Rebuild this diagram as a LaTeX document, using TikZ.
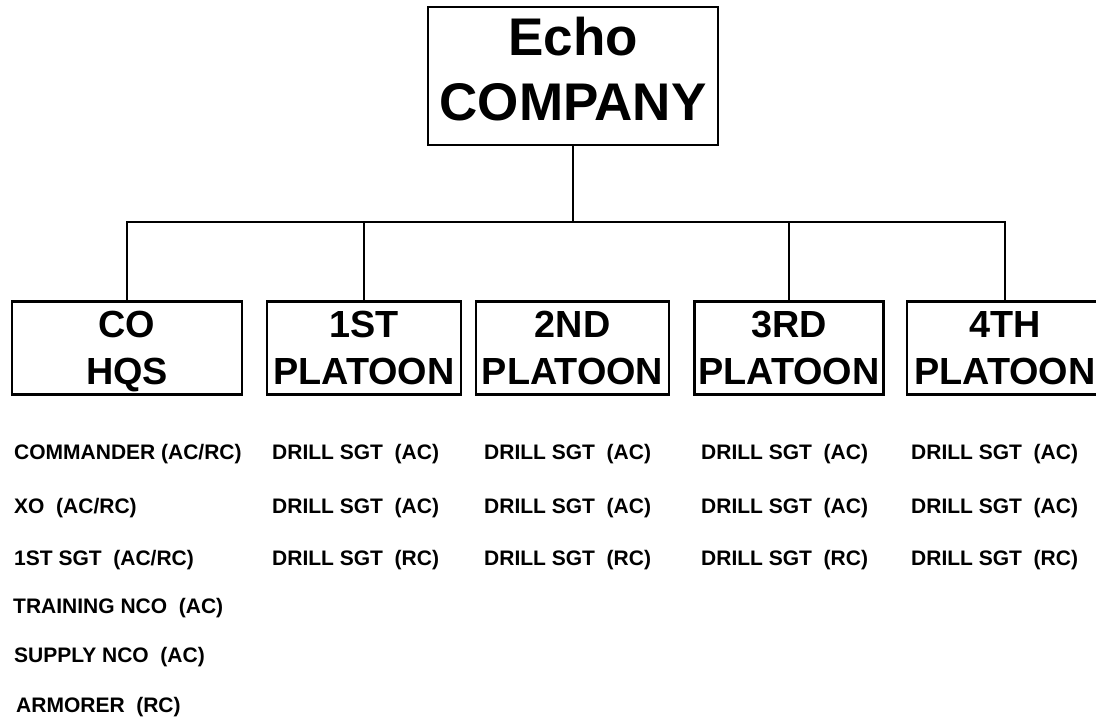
\documentclass[tikz,border=0pt]{standalone}
\usepackage{fontspec}
\setmainfont{Liberation Sans}
\begin{document}
\begin{tikzpicture}[x=1pt,y=-1pt,
  box/.style={draw, line width=2.2pt, inner sep=0pt, minimum height=93pt},
  conn/.style={draw, line width=2pt},
  big/.style={anchor=base, inner sep=0pt, font=\bfseries\fontsize{53}{60}\selectfont},
  ttl/.style={anchor=base, inner sep=0pt, font=\bfseries\fontsize{37.8}{44}\selectfont},
  item/.style={anchor=base west, inner sep=0pt, font=\bfseries\fontsize{21}{24}\selectfont}]
\useasboundingbox[fill=white] (0,0) rectangle (1096,719);

% top box
\node[box, minimum width=290pt, minimum height=138pt] (echo) at (573,76) {};
\node[big] (echoA) at (573,56) {Echo};
\node[big] (echoB) at (573,121) {COMPANY};

% unit boxes
\node[box, minimum width=230pt] (hq) at (127,348) {};
\node[box, minimum width=194pt] (p1) at (364,348) {};
\node[box, minimum width=193pt] (p2) at (572.5,348) {};
\node[box, minimum width=189pt] (p3) at (789,348) {};
\node[box, minimum width=196pt] (p4) at (1005,348) {};

\node[ttl] (hqA) at (127,338) {CO};
\node[ttl] (hqB) at (127,385) {HQS};
\node[ttl] (p1A) at (364,338) {1ST};
\node[ttl] (p1B) at (364,385) {PLATOON};
\node[ttl] (p2A) at (572.5,338) {2ND};
\node[ttl] (p2B) at (572.5,385) {PLATOON};
\node[ttl] (p3A) at (789,338) {3RD};
\node[ttl] (p3B) at (789,385) {PLATOON};
\node[ttl] (p4A) at (1005,338) {4TH};
\node[ttl] (p4B) at (1005,385) {PLATOON};

% connectors
\coordinate (bus) at (573,222);
\draw[conn] (echo.south) -- (bus);
\draw[conn] (bus) -| (hq.north);
\draw[conn] (bus) -| (p1.north);
\draw[conn] (bus) -| (p3.north);
\draw[conn] (bus) -| (p4.north);

% HQ staff
\node[item] (h1) at (14,460) {COMMANDER (AC/RC)};
\node[item] (h2) at (14,513) {XO~~(AC/RC)};
\node[item] (h3) at (14,565) {1ST SGT~~(AC/RC)};
\node[item] (h4) at (13,613) {TRAINING NCO~~(AC)};
\node[item] (h5) at (14,662) {SUPPLY NCO~~(AC)};
\node[item] (h6) at (16,712) {ARMORER~~(RC)};

% platoon staff
\foreach \c/\x in {a/272,b/484,c/701,d/911}{
  \node[item] (\c1) at (\x,460) {DRILL SGT~~(AC)};
  \node[item] (\c2) at (\x,513) {DRILL SGT~~(AC)};
  \node[item] (\c3) at (\x,565) {DRILL SGT~~(RC)};
}
\end{tikzpicture}
\end{document}
